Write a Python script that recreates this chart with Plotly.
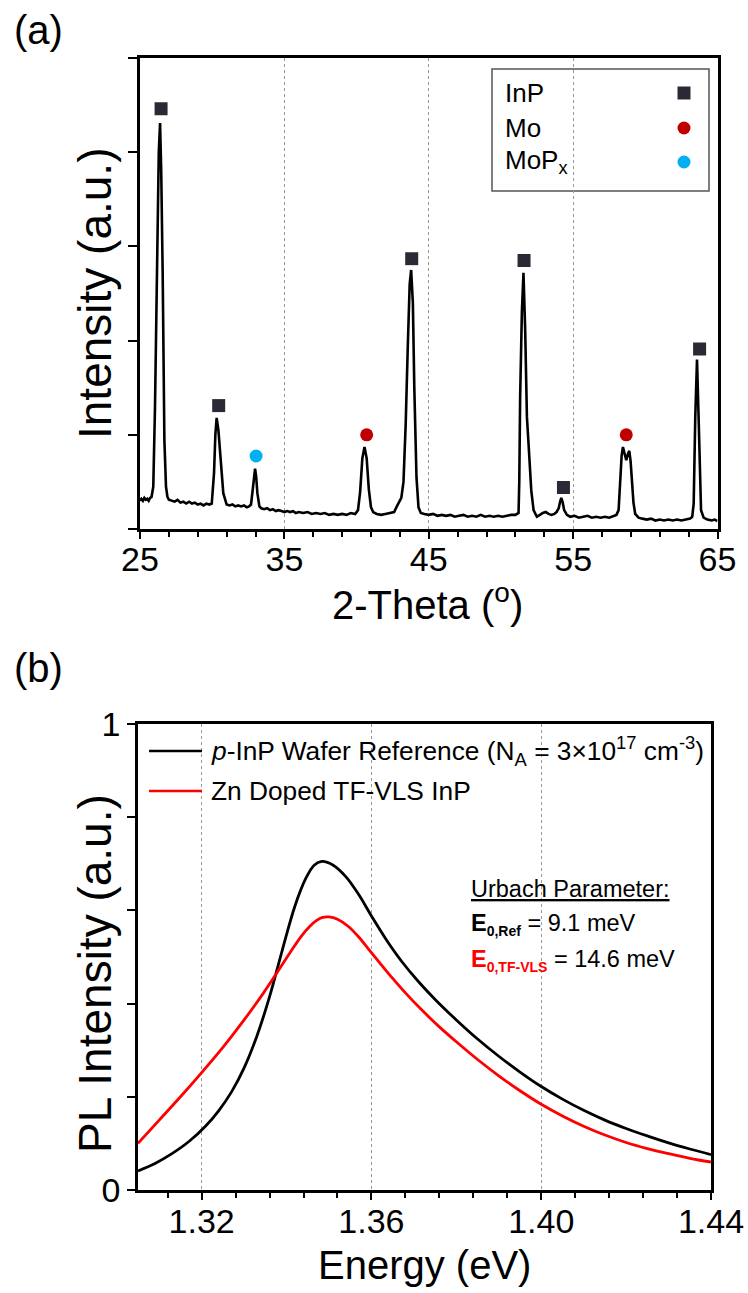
import plotly.graph_objects as go

# ---------------- (a) XRD pattern ----------------
two_theta = [
    25.0, 25.1, 25.2, 25.3, 25.4, 25.5, 25.6, 25.7, 25.8,
    25.92, 26.04, 26.2, 26.3, 26.39, 26.47, 26.57, 26.69, 26.8, 26.9,
    27.0, 27.2, 27.4, 27.6, 27.8, 28.0, 28.2, 28.4, 28.6, 28.8, 29.0, 29.2, 29.4, 29.6, 29.8,
    29.97, 30.13, 30.22, 30.31, 30.43, 30.59, 30.77, 31.0,
    31.2, 31.4, 31.6, 31.8, 32.0, 32.2, 32.4, 32.55,
    32.69, 32.81, 32.9, 32.97, 33.05, 33.13, 33.27,
    33.4, 33.6, 33.8, 34.0, 34.2, 34.4, 34.6, 34.8, 35.0, 35.2, 35.4, 35.6, 35.8,
    36.0, 36.3, 36.6, 36.9, 37.2, 37.5, 37.8, 38.1, 38.4, 38.7, 39.0, 39.3, 39.6, 39.9,
    40.1, 40.25, 40.4, 40.55, 40.7, 40.85, 41.0, 41.15,
    41.4, 41.7, 42.0, 42.3, 42.6, 42.79, 42.97, 43.1,
    43.25, 43.4, 43.55, 43.68, 43.78, 43.9, 44.0, 44.06, 44.15, 44.29, 44.45,
    44.7, 45.0, 45.3, 45.6, 45.9, 46.2, 46.5, 46.8, 47.1, 47.4, 47.7, 48.0, 48.3,
    48.6, 48.9, 49.2, 49.5, 49.8, 50.1, 50.4, 50.7, 51.0,
    51.22, 51.27, 51.33, 51.45, 51.56, 51.68, 51.8, 51.91, 52.0, 52.1, 52.26, 52.49,
    52.7, 52.9, 53.1, 53.3, 53.5, 53.7, 53.85,
    54.0, 54.1, 54.18, 54.28, 54.38, 54.57,
    54.8, 55.1, 55.4, 55.7, 56.0, 56.3, 56.6, 56.9, 57.2, 57.5, 57.8, 58.0,
    58.15, 58.26, 58.36, 58.45, 58.55, 58.68, 58.8, 58.89, 58.98, 59.07, 59.18, 59.3, 59.53,
    59.8, 60.1, 60.4, 60.7, 61.0, 61.3, 61.6, 61.9, 62.2, 62.5, 62.8, 63.1, 63.25,
    63.35, 63.46, 63.58, 63.69, 63.78, 63.86, 64.04,
    64.3, 64.6, 64.8, 65.0,
]
xrd_intensity = [
    0.30, 0.32, 0.30, 0.33, 0.31, 0.32, 0.30, 0.33, 0.34,
    0.45, 1.30, 3.07, 4.00, 4.31, 3.80, 2.72, 0.94, 0.45, 0.34,
    0.31, 0.30, 0.29, 0.31, 0.28, 0.29, 0.27, 0.29, 0.27, 0.28, 0.26, 0.27, 0.25, 0.27, 0.26,
    0.27, 0.60, 1.00, 1.18, 1.05, 0.70, 0.38, 0.26,
    0.25, 0.26, 0.24, 0.25, 0.24, 0.25, 0.23, 0.24,
    0.26, 0.42, 0.58, 0.64, 0.55, 0.38, 0.24,
    0.22, 0.21, 0.22, 0.20, 0.21, 0.19, 0.20, 0.19, 0.18, 0.19, 0.18, 0.19, 0.17,
    0.18, 0.17, 0.18, 0.16, 0.17, 0.16, 0.17, 0.15, 0.16, 0.15, 0.16, 0.15, 0.17, 0.16,
    0.20, 0.40, 0.75, 0.87, 0.75, 0.42, 0.23, 0.18,
    0.16, 0.15, 0.16, 0.17, 0.18, 0.24, 0.30, 0.33,
    0.50, 1.10, 1.95, 2.60, 2.75, 2.40, 1.50, 1.05, 0.55, 0.23, 0.17,
    0.16, 0.15, 0.16, 0.14, 0.15, 0.14, 0.15, 0.13, 0.14, 0.15, 0.13, 0.14, 0.13,
    0.15, 0.13, 0.14, 0.13, 0.14, 0.13, 0.14, 0.15, 0.15,
    0.17, 0.50, 1.40, 2.30, 2.72, 2.11, 1.19, 0.91, 0.65, 0.41, 0.20, 0.13,
    0.15, 0.17, 0.18, 0.16, 0.15, 0.16, 0.18,
    0.22, 0.29, 0.33, 0.28, 0.20, 0.15,
    0.13, 0.14, 0.12, 0.13, 0.14, 0.12, 0.13, 0.12, 0.13, 0.12, 0.14, 0.15,
    0.20, 0.49, 0.78, 0.87, 0.80, 0.73, 0.80, 0.83, 0.72, 0.49, 0.28, 0.16, 0.12,
    0.11, 0.10, 0.11, 0.09, 0.10, 0.09, 0.10, 0.09, 0.10, 0.09, 0.10, 0.11, 0.13,
    0.27, 1.19, 1.80, 1.19, 0.50, 0.20, 0.12,
    0.10, 0.09, 0.10, 0.085,
]

# phase markers placed just above the identified reflections
inp_pos = [26.46, 30.45, 43.82, 51.60, 54.33, 63.76]
inp_mark = [4.46, 1.31, 2.87, 2.85, 0.44, 1.91]
mo_pos = [40.70, 58.68]
mo_mark = [1.00, 1.00]
mopx_pos = [33.04]
mopx_mark = [0.775]

legend_a = ["InP", "Mo", "MoP<sub>x</sub>"]
xrd_ticks = [25, 35, 45, 55, 65]

# ---------------- (b) PL spectra ----------------
energy_ref = [1.305, 1.309, 1.313, 1.317, 1.321, 1.324, 1.327, 1.330, 1.333, 1.336,
              1.339, 1.342, 1.3445, 1.3465, 1.3483, 1.351, 1.354, 1.357, 1.360, 1.3635,
              1.367, 1.371, 1.375, 1.380, 1.385, 1.390, 1.395, 1.400, 1.405, 1.410,
              1.415, 1.420, 1.425, 1.430, 1.435, 1.440]
pl_ref = [0.041, 0.057, 0.078, 0.104, 0.138, 0.170, 0.210, 0.262, 0.330, 0.415,
          0.515, 0.610, 0.668, 0.697, 0.705, 0.697, 0.672, 0.634, 0.588, 0.537,
          0.492, 0.448, 0.409, 0.365, 0.324, 0.287, 0.253, 0.222, 0.195, 0.171,
          0.150, 0.132, 0.116, 0.101, 0.088, 0.076]

energy_vls = [1.305, 1.310, 1.315, 1.320, 1.325, 1.330, 1.3345, 1.338, 1.341, 1.3435,
              1.3455, 1.347, 1.3485, 1.350, 1.352, 1.3545, 1.357, 1.3595, 1.362, 1.365,
              1.368, 1.372, 1.376, 1.380, 1.385, 1.390, 1.395, 1.400, 1.405, 1.410,
              1.415, 1.420, 1.425, 1.430, 1.435, 1.440]
pl_vls = [0.100, 0.150, 0.200, 0.252, 0.306, 0.365, 0.422, 0.470, 0.512, 0.545,
          0.566, 0.578, 0.585, 0.586, 0.581, 0.566, 0.543, 0.515, 0.487, 0.454,
          0.423, 0.385, 0.350, 0.318, 0.280, 0.245, 0.213, 0.184, 0.159, 0.137,
          0.118, 0.102, 0.089, 0.078, 0.068, 0.060]

pl_ticks = [1.32, 1.36, 1.40, 1.44]
legend_b = ["<i>p</i>-InP Wafer Reference (N<sub>A</sub> = 3×10<sup>17</sup> cm<sup>-3</sup>)",
            "Zn Doped TF-VLS InP"]

# ---------------- styling ----------------
W, H = 748, 1293
FONT = "Liberation Sans, Arial, sans-serif"
SQUARE = "#2a2a36"
MO_RED = "#c00000"
MOPX_BLUE = "#00b0f0"


def px(x):
    return x / W


def py(y):
    return 1 - y / H


fig = go.Figure()

fig.add_trace(go.Scatter(x=two_theta, y=xrd_intensity, mode="lines",
                         line=dict(color="black", width=2.6),
                         xaxis="x", yaxis="y", showlegend=False))
fig.add_trace(go.Scatter(x=inp_pos, y=inp_mark, mode="markers",
                         marker=dict(symbol="square", size=13, color=SQUARE),
                         xaxis="x", yaxis="y", showlegend=False))
fig.add_trace(go.Scatter(x=mo_pos, y=mo_mark, mode="markers",
                         marker=dict(symbol="circle", size=13, color=MO_RED),
                         xaxis="x", yaxis="y", showlegend=False))
fig.add_trace(go.Scatter(x=mopx_pos, y=mopx_mark, mode="markers",
                         marker=dict(symbol="circle", size=13, color=MOPX_BLUE),
                         xaxis="x", yaxis="y", showlegend=False))

fig.add_trace(go.Scatter(x=energy_ref, y=pl_ref, mode="lines", line_shape="spline",
                         line=dict(color="black", width=2.8),
                         xaxis="x2", yaxis="y2", showlegend=False))
fig.add_trace(go.Scatter(x=energy_vls, y=pl_vls, mode="lines", line_shape="spline",
                         line=dict(color="#ff0000", width=2.8),
                         xaxis="x2", yaxis="y2", showlegend=False))

axis_common = dict(showline=True, linecolor="black", linewidth=2.5, mirror=True,
                   ticks="outside", tickcolor="black", tickwidth=2, zeroline=False,
                   automargin=False,
                   tickfont=dict(family=FONT, size=34, color="black"))

fig.update_layout(
    template="none",
    width=W, height=H, margin=dict(l=0, r=0, t=0, b=0, autoexpand=False),
    paper_bgcolor="white", plot_bgcolor="white",
    showlegend=False,
    xaxis=dict(domain=[px(140), px(717.5)], range=[25, 65], anchor="y",
               tickvals=xrd_ticks, ticklen=7, ticklabelstandoff=-9,
               minor=dict(dtick=2, tick0=25, ticklen=5, tickcolor="black",
                          tickwidth=1.5, ticks="outside", showgrid=False),
               showgrid=True, gridcolor="#9a9a9a", griddash="dot", gridwidth=1,
               **axis_common),
    yaxis=dict(domain=[py(529), py(58)], range=[0, 5], anchor="x",
               tickvals=[0, 1, 2, 3, 4, 5], showticklabels=False, ticklen=9,
               showgrid=False, **axis_common),
    xaxis2=dict(domain=[px(138), px(711)], range=[1.305, 1.44], anchor="y2",
                tickvals=pl_ticks, ticktext=[f"{v:.2f}" for v in pl_ticks], ticklen=7,
                ticklabelstandoff=-8,
                minor=dict(dtick=0.008, tick0=1.32, ticklen=5, tickcolor="black",
                           tickwidth=1.5, ticks="outside", showgrid=False),
                showgrid=True, gridcolor="#9a9a9a", griddash="dot", gridwidth=1,
                **axis_common),
    yaxis2=dict(domain=[py(1190), py(724)], range=[0, 1], anchor="x2",
                tickvals=[0, 1], ticktext=["0", "1"], ticklen=8,
                minor=dict(dtick=0.2, tick0=0, ticklen=8, tickcolor="black",
                           tickwidth=2, ticks="outside", showgrid=False),
                showgrid=False, **axis_common),
)

annotations = []


def label(text, x, y, size, xanchor="center", color="black", angle=0):
    annotations.append(dict(text=text, x=px(x), y=py(y), xref="paper", yref="paper",
                            xanchor=xanchor, yanchor="middle", showarrow=False,
                            textangle=angle,
                            font=dict(family=FONT, size=size, color=color)))


# panel letters and axis titles
label("(a)", 38, 30, 40)
label("(b)", 38, 668, 40)
label("Intensity (a.u.)", 95, 294, 46, angle=-90)
label("2-Theta (<sup>o</sup>)", 428, 602, 40)
label("PL Intensity (a.u.)", 95, 974, 46, angle=-90)
label("Energy (eV)", 424, 1265, 40)

# legend of panel (a)
for txt, yy in zip(legend_a, [93, 128, 162]):
    label(txt, 503, yy, 26, xanchor="left")

# legend of panel (b)
for txt, yy in zip(legend_b, [751, 791]):
    label(txt, 209, yy, 26.3, xanchor="left")

# Urbach parameters
SUB = "<sub><span style='font-size:14px'><b>{}</b></span></sub>"
label("<u>Urbach Parameter:</u>", 469, 889, 23.5, xanchor="left")
label("<b>E</b>" + SUB.format("0,Ref") + " = 9.1 meV", 469, 924, 23.5, xanchor="left")
label("<span style='color:#ff0000'><b>E</b>" + SUB.format("0,TF-VLS") + "</span> = 14.6 meV",
      469, 960, 23.5, xanchor="left")

fig.update_layout(annotations=annotations)

shapes = [
    dict(type="rect", xref="paper", yref="paper", x0=px(492), x1=px(709), y0=py(191), y1=py(69),
         line=dict(color="#555555", width=1.5), fillcolor="white", layer="below"),
    dict(type="rect", xref="paper", yref="paper", x0=px(677.5), x1=px(690.5),
         y0=py(99.5), y1=py(86.5), line=dict(width=0), fillcolor=SQUARE),
    dict(type="circle", xref="paper", yref="paper", x0=px(677.5), x1=px(690.5),
         y0=py(134.5), y1=py(121.5), line=dict(width=0), fillcolor=MO_RED),
    dict(type="circle", xref="paper", yref="paper", x0=px(677.5), x1=px(690.5),
         y0=py(168.5), y1=py(155.5), line=dict(width=0), fillcolor=MOPX_BLUE),
    dict(type="line", xref="paper", yref="paper", x0=px(149), x1=px(202),
         y0=py(751), y1=py(751), line=dict(color="black", width=2.6)),
    dict(type="line", xref="paper", yref="paper", x0=px(149), x1=px(202),
         y0=py(791), y1=py(791), line=dict(color="#ff0000", width=2.6)),
]
fig.update_layout(shapes=shapes)

fig.write_html("out.html")
